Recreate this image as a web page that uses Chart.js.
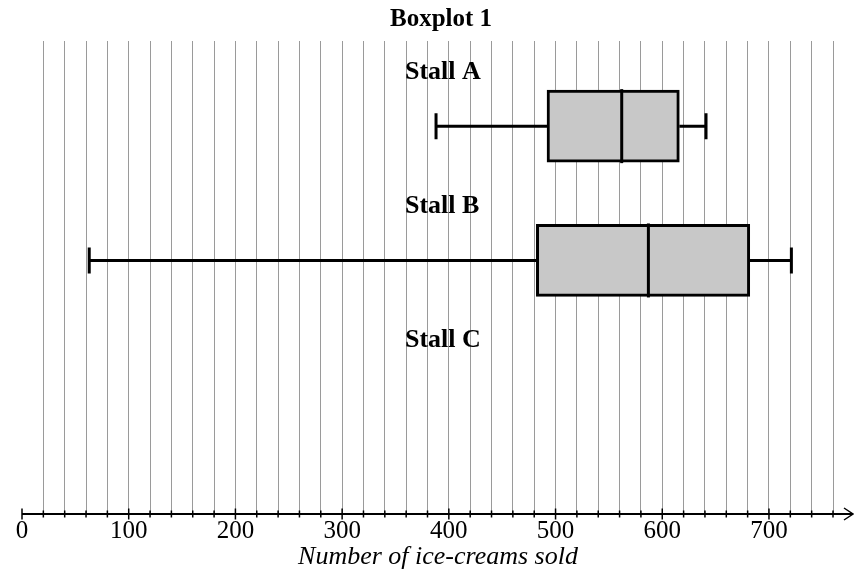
<!DOCTYPE html>
<html>
<head>
<meta charset="utf-8">
<script src="https://cdn.jsdelivr.net/npm/chart.js@4.4.1/dist/chart.umd.min.js"></script>
<style>
  html, body { margin: 0; padding: 0; background: #fff; }
  #wrap { width: 854px; height: 574px; }
</style>
</head>
<body>
<div id="wrap"><canvas id="boxChart" width="854" height="574"></canvas></div>
<script>
// values
const stalls = ['Stall A', 'Stall B', 'Stall C'];
const mins = [388, 63, null];
const q1s = [492, 482, null];
const medians = [562, 587, null];
const q3s = [616, 682, null];
const maxs = [641, 721, null];

const xMin = 0;
const xMax = 760;
const xStep = 20;      // minor ticks / grid lines
const xLabelStep = 100; // labelled ticks

const chartTitle = 'Boxplot 1';
const xTitle = 'Number of ice-creams sold';

const serif = "'Liberation Serif', 'Times New Roman', serif";

// box bars (floating) built from the arrays above
const boxData = stalls.map((s, i) => ({ x: [q1s[i], q3s[i]], y: i }))
  .filter(d => d.x[0] !== null);

// whiskers + median, positioned with the chart's own scales
const boxExtras = {
  id: 'boxExtras',
  beforeDatasetsDraw(chart) {
    const { ctx, scales: { x, y } } = chart;
    ctx.save();
    ctx.strokeStyle = '#000';
    ctx.lineWidth = 3;
    stalls.forEach((s, i) => {
      if (mins[i] === null) return;
      const py = y.getPixelForValue(i);
      const xmn = x.getPixelForValue(mins[i]);
      const xq1 = x.getPixelForValue(q1s[i]);
      const xq3 = x.getPixelForValue(q3s[i]);
      const xmx = x.getPixelForValue(maxs[i]);
      ctx.beginPath();
      ctx.moveTo(xmn, py); ctx.lineTo(xq1, py);
      ctx.moveTo(xq3, py); ctx.lineTo(xmx, py);
      ctx.moveTo(xmn, py - 13); ctx.lineTo(xmn, py + 13);
      ctx.moveTo(xmx, py - 13); ctx.lineTo(xmx, py + 13);
      ctx.stroke();
    });
    ctx.restore();
  },
  afterDatasetsDraw(chart) {
    const { ctx, scales: { x, y } } = chart;
    ctx.save();
    ctx.strokeStyle = '#000';
    ctx.lineWidth = 3;
    stalls.forEach((s, i) => {
      const py = y.getPixelForValue(i);
      if (medians[i] !== null) {
        const xm = x.getPixelForValue(medians[i]);
        ctx.beginPath();
        ctx.moveTo(xm, py - 37); ctx.lineTo(xm, py + 37);
        ctx.stroke();
      }
      // stall name above its row
      ctx.fillStyle = '#000';
      ctx.font = 'bold 26px ' + serif;
      ctx.textAlign = 'left';
      ctx.textBaseline = 'middle';
      ctx.fillText(s, 405, py - 54);
    });
    ctx.restore();
  }
};

// number line along the bottom: axis, crossing ticks, arrow head, titles
const numberLine = {
  id: 'numberLine',
  afterDraw(chart) {
    const { ctx, chartArea, scales: { x } } = chart;
    const yb = chartArea.bottom;
    ctx.save();
    ctx.strokeStyle = '#000';
    ctx.lineWidth = 2;
    ctx.beginPath();
    ctx.moveTo(chartArea.left, yb);
    ctx.lineTo(852, yb);
    ctx.stroke();
    ctx.lineWidth = 1.5;
    ctx.beginPath();
    ctx.moveTo(844, yb - 6);
    ctx.lineTo(853, yb);
    ctx.lineTo(844, yb + 6);
    ctx.stroke();
    x.ticks.forEach(t => {
      const px = x.getPixelForValue(t.value);
      const len = t.value % xLabelStep === 0 ? 5.5 : 3.5;
      ctx.beginPath();
      ctx.moveTo(px, yb - len);
      ctx.lineTo(px, yb + len);
      ctx.stroke();
    });

    // titles sit a little right of the plot centre in the original
    ctx.fillStyle = '#000';
    ctx.textAlign = 'center';
    ctx.textBaseline = 'middle';
    ctx.font = 'bold 25px ' + serif;
    ctx.fillText(chartTitle, 441, 20);
    ctx.font = 'italic 26px ' + serif;
    ctx.fillText(xTitle, 438, 557);
    ctx.restore();
  }
};

new Chart(document.getElementById('boxChart').getContext('2d'), {
  type: 'bar',
  data: {
    datasets: [{
      data: boxData,
      backgroundColor: '#c8c8c8',
      borderColor: '#000',
      borderWidth: 3,
      borderSkipped: false,
      barThickness: 72
    }]
  },
  options: {
    indexAxis: 'y',
    responsive: false,
    animation: false,
    layout: { padding: { left: 22, right: 21, top: 41, bottom: 26 } },
    scales: {
      x: {
        type: 'linear',
        min: xMin,
        max: xMax,
        grid: {
          color: c => (c.tick && c.tick.value === 0) ? 'rgba(0,0,0,0)' : '#9a9a9a',
          lineWidth: 1,
          drawTicks: false
        },
        border: { display: false },
        ticks: {
          stepSize: xStep,
          autoSkip: false,
          maxRotation: 0,
          padding: 2,
          color: '#000',
          font: { family: serif, size: 25, lineHeight: 1.2 },
          callback: v => v % xLabelStep === 0 ? String(v) : ''
        }
      },
      y: {
        type: 'linear',
        display: false,
        offset: false,
        reverse: true,
        min: -0.634,
        max: 2.888
      }
    },
    plugins: {
      legend: { display: false },
      tooltip: { enabled: false },
      title: { display: false }
    }
  },
  plugins: [boxExtras, numberLine]
});
</script>
</body>
</html>
